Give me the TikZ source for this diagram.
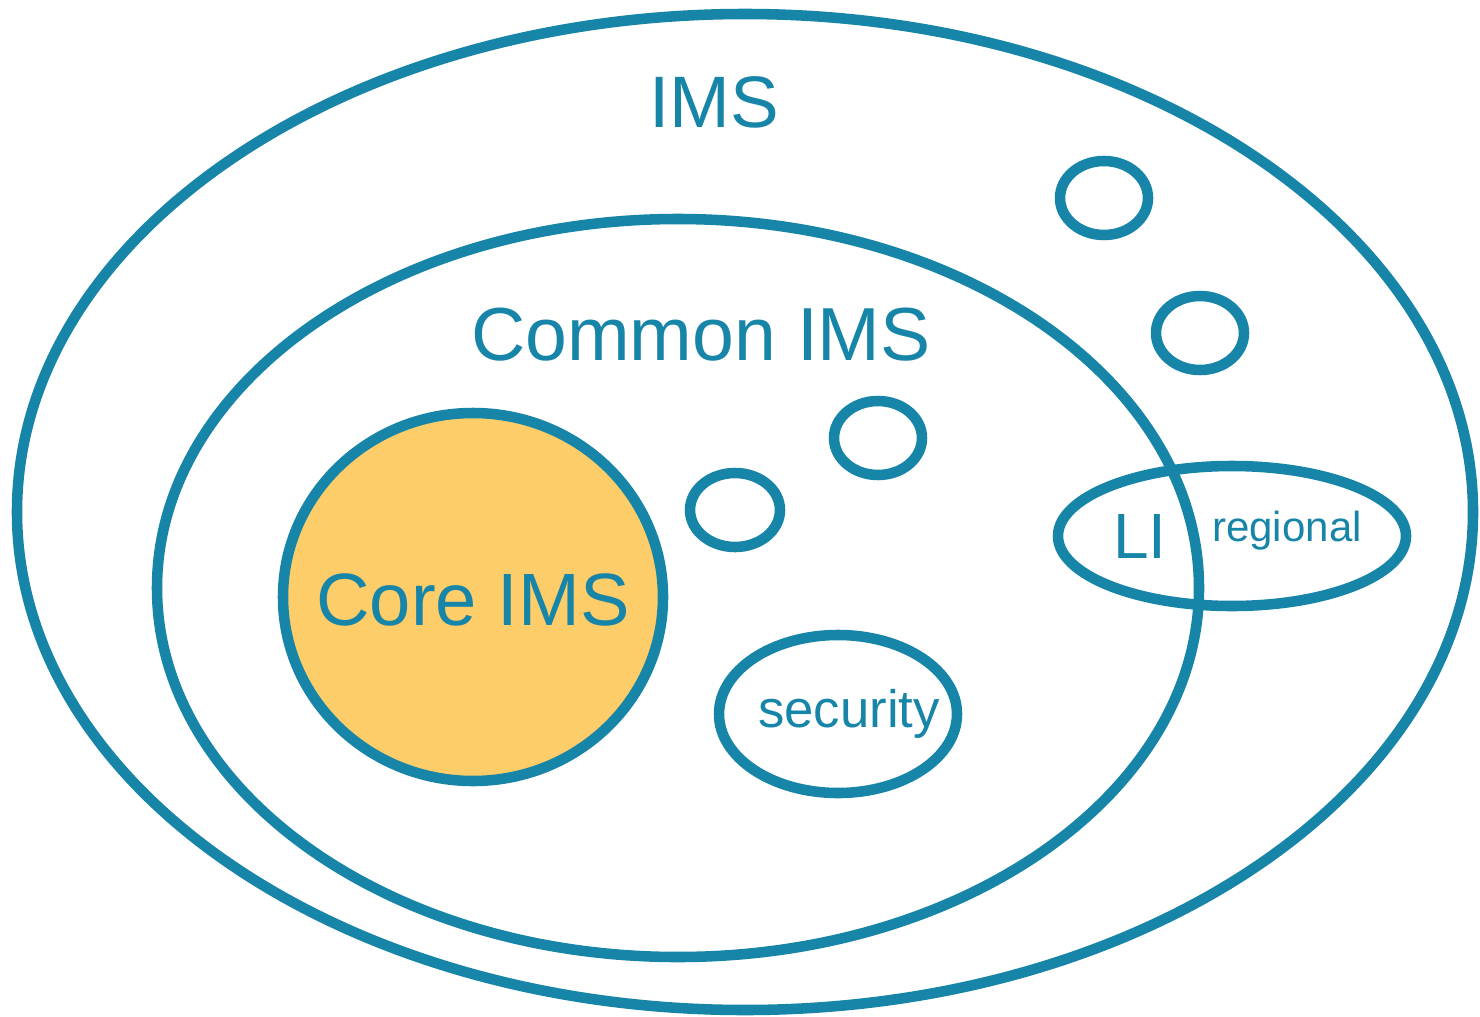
\documentclass[tikz,border=0pt]{standalone}
\usepackage{fontspec}
\setmainfont{Liberation Sans}
\definecolor{imsteal}{HTML}{1785A8}
\definecolor{coreyellow}{HTML}{FDCD6A}
\tikzset{
  ring/.style={draw=imsteal, line width=6pt},
  lbl/.style={text=imsteal, inner sep=0pt, anchor=base},
}
\newcommand{\fsz}[1]{\fontsize{#1}{#1}\selectfont}
\begin{document}
\begin{tikzpicture}[x=0.02cm, y=-0.02cm]
  \useasboundingbox (0,0) rectangle (1480,1017);
  % outer domain
  \draw[ring] (745,512) ellipse [x radius=728, y radius=498];
  % common part
  \draw[ring] (678,588) ellipse [x radius=521, y radius=369];
  % core
  \draw[ring, fill=coreyellow] (473,597) ellipse [x radius=190, y radius=184];
  % small components
  \draw[ring] (1104,198) ellipse [x radius=44, y radius=37];
  \draw[ring] (1200,333) ellipse [x radius=44, y radius=37];
  \draw[ring] (878,438) ellipse [x radius=44, y radius=37];
  \draw[ring] (735,510) ellipse [x radius=45, y radius=37];
  \draw[ring] (838,714) ellipse [x radius=119, y radius=79];
  \draw[ring] (1232,536) ellipse [x radius=174, y radius=70];
  % labels
  \node[lbl, font=\fsz{41.5}] (ims) at (714,128) {IMS};
  \node[lbl, font=\fsz{42.8}] (common) at (701,360) {Common IMS};
  \node[lbl, font=\fsz{42.2}] (core) at (473,625) {Core IMS};
  \node[lbl, font=\fsz{36.4}] (li) at (1140,558) {LI};
  \node[lbl, font=\fsz{23.9}] (regional) at (1287,541) {regional};
  \node[lbl, font=\fsz{30}] (security) at (849,727) {security};
\end{tikzpicture}
\end{document}
